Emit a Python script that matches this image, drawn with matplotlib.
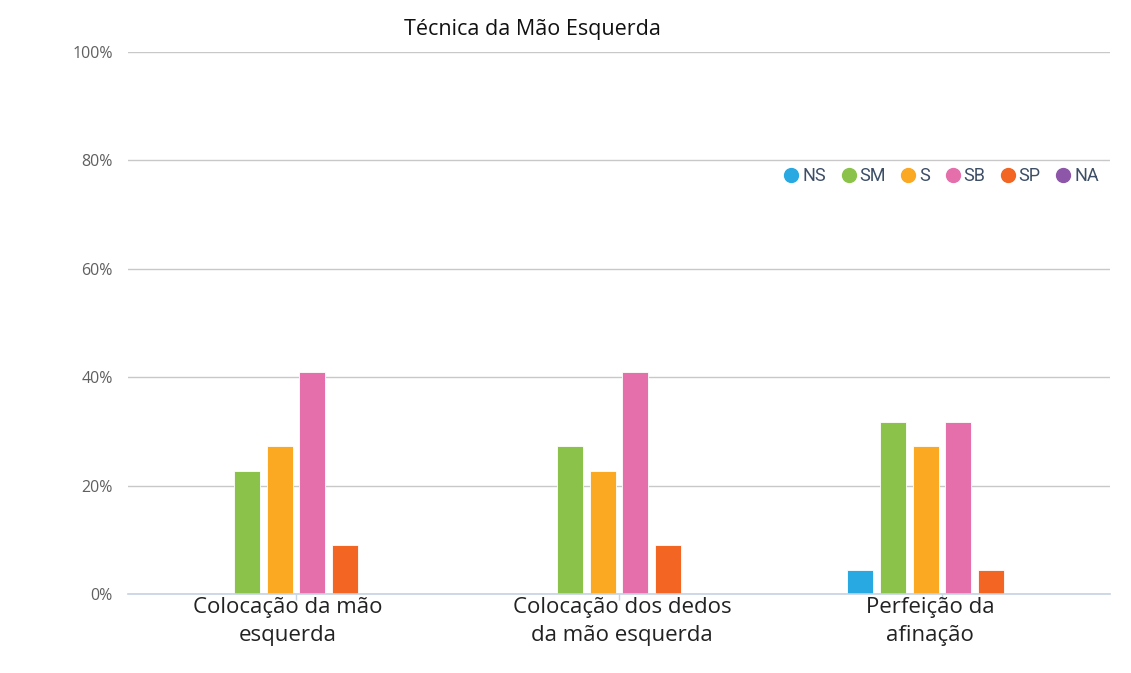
import matplotlib
matplotlib.use("Agg")
import matplotlib.pyplot as plt
from matplotlib.lines import Line2D
import numpy as np

title = "Técnica da Mão Esquerda"
categories = ["Colocação da mão\nesquerda", "Colocação dos dedos\nda mão esquerda", "Perfeição da\nafinação"]
series_names = ["NS", "SM", "S", "SB", "SP", "NA"]
series_colors = ["#29a9e1", "#8bc34a", "#fba922", "#e56fab", "#f26522", "#8e56a8"]
NS = [0.0, 0.0, 4.5]
SM = [22.7, 27.3, 31.8]
S = [27.3, 22.7, 27.3]
SB = [40.9, 40.9, 31.8]
SP = [9.1, 9.1, 4.5]
NA = [0.0, 0.0, 0.0]
series_values = [NS, SM, S, SB, SP, NA]
yticks = [0, 20, 40, 60, 80, 100]
ytick_labels = ["0%", "20%", "40%", "60%", "80%", "100%"]

W, H = 1131, 673
fig = plt.figure(figsize=(W / 100, H / 100), dpi=100)
fig.patch.set_facecolor("white")

ax = fig.add_axes([128 / W, 1 - 594 / H, (1110 - 128) / W, (594 - 52) / H])

x = np.arange(len(categories))
pitch = 0.1014
width = 0.08
for i, (name, vals, col) in enumerate(zip(series_names, series_values, series_colors)):
    ax.bar(x + (i - 2.5) * pitch, vals, width=width, color=col, edgecolor="white",
           linewidth=0.6, zorder=3, label=name)

ax.set_ylim(0, 100)
ax.set_xlim(-0.52, 2.52)
ax.set_yticks(yticks)
ax.set_yticklabels(ytick_labels, family="Open Sans", fontsize=11.5, color="#606060")
ax.tick_params(axis="y", length=0, pad=11)
ax.grid(axis="y", color="#c8c8c8", linewidth=1, zorder=1)
for s in ["top", "right", "left"]:
    ax.spines[s].set_visible(False)
ax.spines["bottom"].set_color("#c5d3e3")
ax.spines["bottom"].set_linewidth(1.2)
ax.spines["bottom"].set_zorder(4)

ax.set_xticks(x)
ax.set_xticklabels([""] * len(categories))
ax.tick_params(axis="x", which="major", length=4, color="#c5d3e3", width=1)
label_pos = [-0.025, 1.009, 1.963]
ax.set_xticks(label_pos, minor=True)
ax.set_xticklabels(categories, minor=True, family="Open Sans", fontsize=16,
                   color="#222222", linespacing=1.45)
ax.tick_params(axis="x", which="minor", length=0, pad=2)

fig.text(532 / W, 1 - 29 / H, title, family="Open Sans", fontsize=15.5,
         color="#111111", ha="center", va="center")

handles = [Line2D([0], [0], marker="o", linestyle="none", markersize=10,
                  markerfacecolor=c, markeredgecolor=c) for c in series_colors]
leg = fig.legend(handles, series_names, loc="center", bbox_to_anchor=(942 / W, 1 - 176 / H),
                 ncol=6, frameon=True, facecolor="white", edgecolor="white", framealpha=1,
                 handlelength=0.7, handletextpad=0.25, columnspacing=0.9,
                 prop={"family": "Roboto", "size": 13}, borderpad=0.3)
for t in leg.get_texts():
    t.set_color("#3d4e66")

fig.savefig("out.png", dpi=100, facecolor="white")
